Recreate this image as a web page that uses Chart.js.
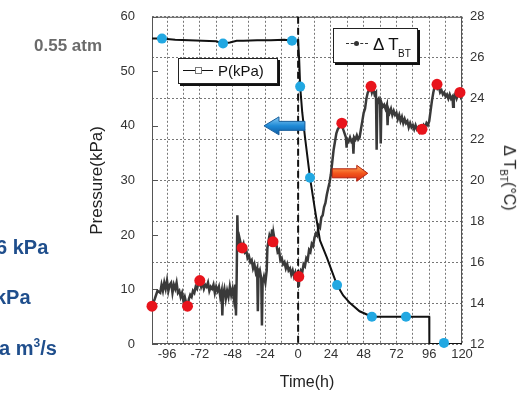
<!DOCTYPE html>
<html>
<head>
<meta charset="utf-8">
<script src="https://cdn.jsdelivr.net/npm/chart.js@4.4.0/dist/chart.umd.min.js"></script>
<style>
  body { margin: 0; background: #fff; font-family: "Liberation Sans", Arial, sans-serif; }
  #wrap { position: relative; width: 522px; height: 396px; overflow: hidden; }
  canvas { position: absolute; left: 0; top: 0; }
  .note { position: absolute; font-weight: bold; white-space: nowrap; line-height: 1; }
  .blue { color: #1f4e8c; font-size: 20px; }
  .legend { position: absolute; background: #fff; border: 1px solid #222; box-shadow: 2px 2px 0 #111; color: #111; white-space: nowrap; }
  .legend div { position: absolute; }
</style>
</head>
<body>
<div id="wrap">
  <canvas id="chart" width="522" height="396"></canvas>

  <div class="note" style="left:34px;top:37px;font-size:17px;color:#6b6b6b;">0.55 atm</div>
  <div class="note blue" style="left:-4px;top:237px;">6 kPa</div>
  <div class="note blue" style="left:-5px;top:287px;">kPa</div>
  <div class="note blue" style="left:-1px;top:337px;">a m<span style="font-size:12px;vertical-align:8px;">3</span>/s</div>

  <div class="legend" style="left:178px;top:58px;width:98px;height:24px;">
    <div style="left:4px;top:11px;width:30px;border-top:1.5px solid #111;"></div>
    <div style="left:16px;top:8px;width:5px;height:5px;border:1px solid #777;background:#fff;"></div>
    <div style="left:39px;top:3px;font-size:15px;">P(kPa)</div>
  </div>

  <div class="legend" style="left:333px;top:28px;width:83px;height:33px;">
    <div style="left:12px;top:14px;width:22px;border-top:1.5px dashed #333;"></div>
    <div style="left:20px;top:12px;width:5px;height:5px;border-radius:50%;background:#333;"></div>
    <div style="left:39px;top:6px;font-size:17px;">&Delta; T</div>
    <div style="left:64px;top:19px;font-size:10px;">BT</div>
  </div>

  <div style="position:absolute;left:508px;top:178px;transform:translate(-50%,-50%) rotate(90deg);font-size:16px;color:#222;white-space:nowrap;">&Delta; T<sub style="font-size:10px;">BT</sub>(°C)</div>
</div>

<script>
// pressure P (kPa), left axis
const pTime = [-107, -100, -90, -80, -70, -60, -55, -50, -45, -40, -30, -20, -10, -4.5, 0, 0.8, 1.5, 3, 5, 8.7, 12.4, 16, 21, 28.5, 33, 38, 45, 54, 60, 70, 79, 90, 96, 96.1, 106.8, 120];
const pVal  = [56.0, 56.0, 55.8, 55.7, 55.6, 55.5, 55.1, 55.3, 55.6, 55.6, 55.7, 55.7, 55.8, 55.6, 55.6, 52.0, 47.2, 42.5, 38.0, 30.5, 24.5, 19.0, 15.9, 10.8, 8.9, 7.5, 6.0, 5.0, 5.0, 5.0, 5.0, 5.0, 5.0, 0, 0, 0];
const pMarkTime = [-99.7, -55, -4.5, 1.5, 8.7, 28.5, 54, 79, 106.8];
const pMarkVal  = [56.0, 55.1, 55.6, 47.2, 30.5, 10.8, 5.0, 5.0, 0.2];

// delta T_BT (°C), right axis
const tTime = [-107, -105, -103, -101, -100, -99, -98, -97, -96, -95, -94, -93, -92, -91, -90, -89, -88, -87, -86, -85, -84, -83, -82, -81, -80, -79, -78, -77, -76, -75, -74, -73, -72, -71, -70, -69, -68, -67, -66, -65, -64, -63, -62, -61, -60, -59, -58, -57, -56, -55.5, -55, -54, -53, -52, -51, -50, -49, -48, -47, -46, -45.5, -45, -44.5, -44, -43, -42, -41, -40, -39, -38, -37, -36, -35, -34, -33, -32, -31, -30, -29.5, -29, -28, -27, -26.5, -26, -25, -24, -23, -22.5, -22, -21, -20, -19, -18.4, -18, -17, -16, -15, -14, -13, -12, -11, -10, -9, -8, -7, -6, -5, -4, -3, -2, -1, 0, 0.5, 1, 2, 3, 4, 5, 6, 7, 8, 9, 10, 11, 12, 13, 14, 15, 16, 17, 18, 19, 20, 21, 22, 23, 24, 25, 26, 27, 28, 29, 30, 31, 32, 33, 34, 35, 35.5, 36, 37, 38, 39, 40, 40.5, 41, 42, 43, 44, 45, 46, 47, 48, 49, 50, 51, 52, 53, 54, 55, 56, 57, 57.5, 58, 59, 60, 60.5, 61, 62, 63, 64, 65, 65.5, 66, 67, 68, 69, 70, 71, 72, 73, 74, 75, 76, 77, 78, 79, 80, 81, 82, 83, 84, 85, 86, 87, 88, 89, 90, 91, 92, 93, 94, 95, 96, 97, 98, 99, 100, 101, 102, 103, 104, 105, 106, 107, 108, 109, 110, 111, 112, 113, 113.5, 114, 115, 116, 117, 118, 119, 120];
const tVal  = [13.85, 14.2, 14.6, 14.5, 14.9, 14.6, 15.0, 14.7, 15.1, 14.6, 14.9, 15.0, 14.5, 14.9, 14.7, 15.0, 14.5, 14.6, 14.3, 14.5, 14.1, 14.3, 14.0, 13.85, 14.2, 14.4, 14.3, 14.6, 14.5, 14.8, 14.7, 15.0, 15.1, 14.8, 15.0, 14.7, 14.9, 14.8, 15.0, 14.6, 14.8, 14.7, 14.9, 14.5, 14.8, 14.6, 14.8, 14.3, 14.6, 13.4, 14.4, 14.7, 14.2, 14.6, 14.3, 14.8, 14.4, 14.7, 14.2, 14.9, 13.4, 15.2, 18.3, 16.8, 17.2, 16.9, 16.7, 16.9, 16.5, 16.6, 16.2, 16.3, 16.0, 16.1, 15.7, 15.9, 15.5, 15.7, 13.6, 15.4, 15.6, 15.2, 12.9, 15.0, 15.3, 15.0, 15.6, 16.7, 16.9, 17.3, 17.1, 17.6, 17.0, 17.4, 17.0, 16.9, 16.5, 16.6, 16.1, 16.2, 15.9, 16.0, 15.7, 15.9, 15.6, 15.7, 15.4, 15.6, 15.3, 15.5, 15.2, 15.3, 14.8, 15.4, 15.6, 15.5, 15.9, 15.8, 16.2, 16.1, 16.6, 16.5, 16.9, 16.8, 17.2, 17.4, 17.3, 17.8, 17.7, 18.2, 18.3, 18.7, 18.9, 19.3, 19.6, 19.9, 20.3, 20.9, 21.5, 21.9, 22.3, 22.5, 22.6, 22.7, 22.8, 22.5, 22.3, 22.1, 21.6, 22.0, 21.9, 22.1, 21.9, 22.0, 21.3, 22.1, 22.0, 22.2, 22.0, 22.1, 22.5, 22.9, 23.3, 23.5, 24.0, 24.3, 24.4, 24.6, 24.3, 24.5, 24.2, 24.3, 21.5, 23.9, 24.0, 23.7, 21.8, 23.8, 23.6, 23.7, 23.5, 23.7, 22.7, 23.5, 23.3, 23.5, 23.2, 23.4, 23.2, 23.3, 23.0, 23.2, 22.9, 23.1, 22.8, 23.0, 22.8, 22.9, 22.6, 22.8, 22.6, 22.7, 22.5, 22.7, 22.5, 22.6, 22.4, 22.6, 22.5, 22.7, 22.6, 22.8, 22.7, 22.9, 23.4, 23.9, 24.3, 24.6, 24.7, 24.5, 24.6, 24.3, 24.4, 24.2, 24.3, 24.1, 24.2, 24.0, 24.2, 24.0, 24.1, 23.6, 24.0, 24.2, 24.0, 24.2, 24.3, 24.1, 24.3];
const tMarkTime = [-107, -81, -72, -41, -18.4, 0.5, 32, 53.4, 90.7, 101.7, 118.5];
const tMarkVal  = [13.85, 13.85, 15.1, 16.7, 17.0, 15.3, 22.8, 24.6, 22.5, 24.7, 24.3];

// axes
const xGridTicks = [-96, -84, -72, -60, -48, -36, -24, -12, 0, 12, 24, 36, 48, 60, 72, 84, 96, 108, 120];
const xLabelTicks = [-96, -72, -48, -24, 0, 24, 48, 72, 96, 120];
const pTicks = [0, 10, 20, 30, 40, 50, 60];
const tTicks = [12, 14, 16, 18, 20, 22, 24, 26, 28];

const pts = (xs, ys) => xs.map((x, i) => ({ x: x, y: ys[i] }));

Chart.defaults.font.family = '"Liberation Sans", Arial, sans-serif';
Chart.defaults.color = '#333';

function drawArrow(ctx, xTail, xTip, y, bodyH, headH, headL, fill, stroke) {
  const dir = xTip > xTail ? 1 : -1;
  const xNeck = xTip - dir * headL;
  ctx.beginPath();
  ctx.moveTo(xTail, y - bodyH);
  ctx.lineTo(xNeck, y - bodyH);
  ctx.lineTo(xNeck, y - headH);
  ctx.lineTo(xTip, y);
  ctx.lineTo(xNeck, y + headH);
  ctx.lineTo(xNeck, y + bodyH);
  ctx.lineTo(xTail, y + bodyH);
  ctx.closePath();
  ctx.fillStyle = fill;
  ctx.fill();
  ctx.lineWidth = 1;
  ctx.strokeStyle = stroke;
  ctx.stroke();
}

const extras = {
  id: 'extras',
  beforeDatasetsDraw(chart) {
    const { ctx, chartArea: a, scales } = chart;
    ctx.save();
    // frame
    ctx.strokeStyle = '#555';
    ctx.lineWidth = 1;
    ctx.strokeRect(a.left + 0.5, a.top + 0.5, a.width - 1, a.height - 1);
    // inward ticks on the pressure axis
    pTicks.forEach(v => {
      const y = Math.round(scales.y.getPixelForValue(v)) + 0.5;
      ctx.beginPath();
      ctx.moveTo(a.left, y);
      ctx.lineTo(a.left + 6, y);
      ctx.stroke();
    });
    // dashed line at t = 0
    const x0 = scales.x.getPixelForValue(0);
    ctx.strokeStyle = '#111';
    ctx.lineWidth = 2;
    ctx.setLineDash([7, 4]);
    ctx.beginPath();
    ctx.moveTo(x0, a.top);
    ctx.lineTo(x0, a.bottom);
    ctx.stroke();
    ctx.restore();
  },
  afterDatasetsDraw(chart) {
    const { ctx, scales } = chart;
    const x = scales.x, y = scales.y;
    ctx.save();
    let yb = y.getPixelForValue(40);
    let g = ctx.createLinearGradient(0, yb - 8, 0, yb + 8);
    g.addColorStop(0, '#7cc4f0');
    g.addColorStop(0.5, '#1f8ad6');
    g.addColorStop(1, '#0f5fa8');
    drawArrow(ctx, x.getPixelForValue(5), x.getPixelForValue(-25), yb, 4.5, 9, 15, g, '#1a5f9c');
    let yr = y.getPixelForValue(31.3);
    g = ctx.createLinearGradient(0, yr - 8, 0, yr + 8);
    g.addColorStop(0, '#ffb060');
    g.addColorStop(0.5, '#f2561c');
    g.addColorStop(1, '#d8260f');
    drawArrow(ctx, x.getPixelForValue(25), x.getPixelForValue(51), yr, 4.5, 8, 11, g, '#b3200d');
    ctx.restore();
  }
};

new Chart(document.getElementById('chart').getContext('2d'), {
  type: 'line',
  data: {
    datasets: [
      {
        label: 'ΔT markers',
        data: pts(tMarkTime, tMarkVal),
        yAxisID: 'y2',
        showLine: false,
        pointRadius: 5.5,
        pointBackgroundColor: '#e8141c',
        pointBorderWidth: 0,
        clip: false
      },
      {
        label: 'P markers',
        data: pts(pMarkTime, pMarkVal),
        yAxisID: 'y',
        showLine: false,
        pointRadius: 5,
        pointBackgroundColor: '#22a8e2',
        pointBorderWidth: 0,
        clip: false
      },
      {
        label: 'P(kPa)',
        data: pts(pTime, pVal),
        yAxisID: 'y',
        borderColor: '#111',
        borderWidth: 2,
        pointRadius: 0,
        tension: 0
      },
      {
        label: 'ΔT_BT',
        data: pts(tTime, tVal),
        yAxisID: 'y2',
        borderColor: '#3a3a3a',
        borderWidth: 2.5,
        pointRadius: 0,
        tension: 0
      }
    ]
  },
  options: {
    responsive: false,
    animation: false,
    devicePixelRatio: 1,
    layout: { padding: { left: 83, right: 0, top: 16, bottom: 0 } },
    plugins: {
      legend: { display: false },
      tooltip: { enabled: false }
    },
    scales: {
      x: {
        type: 'linear',
        min: -107,
        max: 120,
        afterFit: s => { s.height = 52; },
        afterBuildTicks: s => { s.ticks = xGridTicks.map(v => ({ value: v })); },
        ticks: {
          autoSkip: false,
          maxRotation: 0,
          padding: 3,
          font: { size: 13 },
          color: '#333',
          callback: v => xLabelTicks.includes(v) ? String(v) : ''
        },
        grid: { color: '#777', lineWidth: 1, drawTicks: false },
        border: { display: false, dash: [2, 2] },
        title: { display: true, text: 'Time(h)', font: { size: 16 }, color: '#222', padding: { top: 4, bottom: 4 } }
      },
      y: {
        type: 'linear',
        position: 'left',
        min: 0,
        max: 60,
        afterFit: s => { s.width = 69; },
        afterBuildTicks: s => { s.ticks = pTicks.map(v => ({ value: v })); },
        ticks: { padding: 9, font: { size: 13 }, color: '#333' },
        grid: { display: false },
        border: { display: false },
        title: { display: true, text: 'Pressure(kPa)', font: { size: 17 }, color: '#222', padding: { top: 4, bottom: 4 } }
      },
      y2: {
        type: 'linear',
        position: 'right',
        min: 12,
        max: 28,
        afterFit: s => { s.width = 60; },
        afterBuildTicks: s => { s.ticks = tTicks.map(v => ({ value: v })); },
        ticks: { padding: 8, font: { size: 13 }, color: '#333' },
        grid: { color: '#777', lineWidth: 1, drawTicks: false },
        border: { display: false, dash: [2, 2] }
      }
    }
  },
  plugins: [extras]
});
</script>
</body>
</html>
